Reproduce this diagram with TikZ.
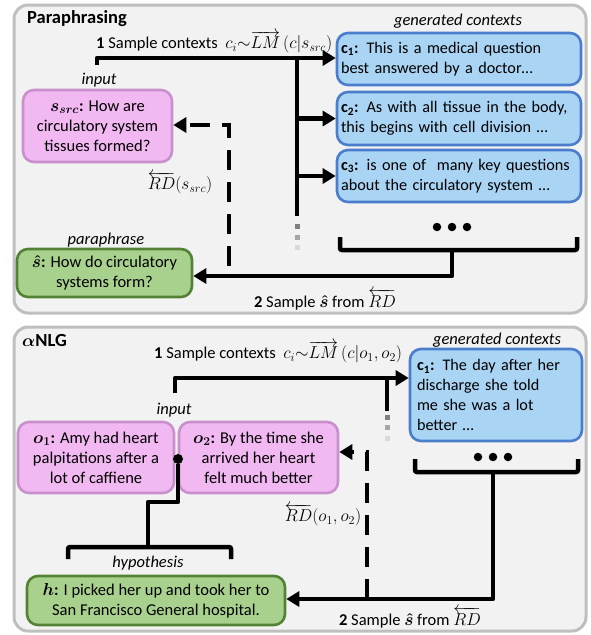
\documentclass[tikz,border=0pt]{standalone}
\usepackage{amsmath}
\usepackage{fontspec}
\setmainfont{Carlito}
\usetikzlibrary{arrows.meta}
\definecolor{panelfill}{HTML}{F2F2F2}
\definecolor{panelline}{HTML}{BFBFBF}
\definecolor{pinkfill}{HTML}{F2B8F2}
\definecolor{pinkline}{HTML}{C890CC}
\definecolor{bluefill}{HTML}{A9D4F4}
\definecolor{blueline}{HTML}{4A7ECC}
\definecolor{greenfill}{HTML}{A9D18E}
\definecolor{greenline}{HTML}{548235}
\newcommand{\fs}{\fontsize{16.5}{20}\selectfont}
\tikzset{
  panel/.style={draw=panelline, fill=panelfill, line width=3pt, rounded corners=14pt},
  box/.style={line width=2.6pt, rounded corners=11pt, inner sep=0pt, font=\fs},
  pinkbox/.style={box, draw=pinkline, fill=pinkfill, align=center},
  bluebox/.style={box, draw=blueline, fill=bluefill, align=left, font=\fontsize{16.2}{20}\selectfont},
  greenbox/.style={box, draw=greenline, fill=greenfill, align=center},
  lbl/.style={font=\fs\itshape, inner sep=0pt},
  txt/.style={font=\fs, inner sep=0pt},
  ttl/.style={font=\fontsize{18.5}{20}\selectfont\bfseries, inner sep=0pt, anchor=west},
  thick line/.style={line width=4.5pt, line join=round},
  conn/.style={thick line, -{Triangle[length=13pt,width=15pt]}},
  dconn/.style={line width=4.5pt, dash pattern=on 20pt off 12pt, -{Triangle[length=13pt,width=15pt]}},
  bracketline/.style={line width=4.5pt, rounded corners=2pt},
  fade1/.style={fill=black!50, draw=none},
  fade2/.style={fill=black!35, draw=none},
  fade3/.style={fill=black!15, draw=none},
  dot/.style={circle, fill=black, inner sep=0pt, minimum size=8.5pt},
}
\begin{document}
\begin{tikzpicture}[x=1pt,y=-1pt]
\useasboundingbox (0,0) rectangle (591,635);
% panels
\draw[panel] (14,5) rectangle (586,313);
\draw[panel] (14,327) rectangle (586,631);

% ===== top panel =====
\node[ttl] (t1) at (27,19) {Paraphrasing};
\node[txt, anchor=west] (s1) at (96,42) {\textbf{1} Sample contexts \ $c_i{\sim}\overrightarrow{LM}\,(c|s_{src})$};
\node[lbl] (gc1) at (458,21) {generated contexts};
\node[lbl] (in1) at (99,80) {input};
\node[pinkbox, minimum width=149pt, minimum height=72pt] (src) at (97.5,126)
  {{\boldmath$s_{src}$}\textbf{:} How are\\circulatory system\\tissues formed?};
\node[bluebox, minimum width=244pt, minimum height=52pt, text width=236pt] (ca) at (459,59)
  {\textbf{c\textsubscript{1}:} This is a medical question\\best answered by a doctor…};
\node[bluebox, minimum width=244pt, minimum height=53pt, text width=236pt] (cb) at (459,118.5)
  {\textbf{c\textsubscript{2}:} As with all tissue in the body,\\this begins with cell division …};
\node[bluebox, minimum width=244pt, minimum height=52pt, text width=236pt] (cc) at (459,176)
  {\textbf{c\textsubscript{3}:} is one of \ many key questions\\about the circulatory system …};
\node[txt] (rd1) at (180,183) {$\overleftarrow{RD}(s_{src})$};
\node[lbl] (pp) at (106,240) {paraphrase};
\node[greenbox, minimum width=175pt, minimum height=48pt] (sh) at (104.5,273)
  {{\boldmath$\hat{s}$}\textbf{:} How do circulatory\\systems form?};
\node[txt] (s2) at (325,300) {\textbf{2} Sample {\boldmath$\hat{s}$} from $\overleftarrow{RD}$};

\coordinate (a0) at (97,65);
\coordinate (a1) at (97,58);
\coordinate (tr) at (297,58);
\coordinate (trb) at (297,216);
\draw[conn] (a0) -- (a1) -- (ca.west |- a1);
\draw[thick line] (tr) -- (trb);
\draw[conn] (tr |- cb.west) -- (cb.west);
\draw[conn] (tr |- cc.west) -- (cc.west);
\fill[fade1] (294.5,224) rectangle (299.5,229);
\fill[fade2] (294.5,234.5) rectangle (299.5,239.5);
\fill[fade3] (294.5,245) rectangle (299.5,250);

\node[dot] (d1) at (437,227) {};
\node[dot] (d2) at (452,227) {};
\node[dot] (d3) at (467,227) {};
\draw[bracketline] (340,237) -- (340,250) -- (577,250) -- (577,237);
\coordinate (st1) at (452,250);
\coordinate (st2) at (452,276);
\draw[conn] (st1) -- (st2) -- (sh.east |- st2);
\coordinate (dz) at (229,266);
\coordinate (dy) at (229,125);
\draw[dconn] (dz) -- (dy) -- (src.east |- dy);

% ===== bottom panel =====
\node[ttl] (t2) at (22,340) {{\boldmath$\alpha$}NLG};
\node[txt, anchor=west] (s3) at (154,352) {\textbf{1} Sample contexts \ $c_i{\sim}\overrightarrow{LM}\,(c|o_1,o_2)$};
\node[lbl] (gc2) at (497,340) {generated contexts};
\node[lbl] (in2) at (174,410) {input};
\node[pinkbox, minimum width=156pt, minimum height=71pt] (o1) at (96,457.5)
  {{\boldmath$o_1$}\textbf{:} Amy had heart\\palpitations after a\\lot of caffiene};
\node[pinkbox, minimum width=159pt, minimum height=71pt] (o2) at (258.5,457.5)
  {{\boldmath$o_2$}\textbf{:} By the time she\\arrived her heart\\felt much better};
\node[bluebox, minimum width=172pt, minimum height=92pt, text width=158pt] (cd) at (496,395)
  {\textbf{c\textsubscript{1}:} The day after her\\discharge she told\\me she was a lot\\better …};
\node[txt] (rd2) at (323,515) {$\overleftarrow{RD}(o_1,o_2)$};
\node[lbl] (hy) at (148,563) {hypothesis};
\node[greenbox, minimum width=258pt, minimum height=49pt] (h) at (156,600.5)
  {{\boldmath$h$}\textbf{:} I picked her up and took her to\\San Francisco General hospital.};
\node[txt] (s4) at (410,618) {\textbf{2} Sample {\boldmath$\hat{s}$} from $\overleftarrow{RD}$};

\coordinate (b0) at (175,393);
\coordinate (b1) at (175,378);
\coordinate (tr2) at (387,378);
\coordinate (tr2b) at (387,411);
\draw[conn] (b0) -- (b1) -- (cd.west |- b1);
\draw[thick line] (tr2) -- (tr2b);
\fill[fade1] (384.5,414.5) rectangle (389.5,419.5);
\fill[fade2] (384.5,425) rectangle (389.5,430);
\fill[fade3] (384.5,435.5) rectangle (389.5,440.5);

\node[dot] (e1) at (478,457) {};
\node[dot] (e2) at (493,457) {};
\node[dot] (e3) at (508,457) {};
\draw[bracketline] (415,459) -- (415,472) -- (578,472) -- (578,459);
\coordinate (st3) at (493,472);
\coordinate (st4) at (493,599);
\draw[conn] (st3) -- (st4) -- (h.east |- st4);
\coordinate (dz2) at (367,599);
\coordinate (dy2) at (367,452);
\draw[dconn] (dz2) -- (dy2) -- (o2.east |- dy2);

\node[dot, minimum size=10pt] (jd) at (178,459) {};
\coordinate (j1) at (178,502);
\coordinate (j2) at (148,502);
\coordinate (j3) at (148,547);
\draw[thick line] (jd) -- (j1) -- (j2) -- (j3);
\draw[bracketline] (68,559) -- (68,547) -- (231,547) -- (231,559);
\end{tikzpicture}
\end{document}
